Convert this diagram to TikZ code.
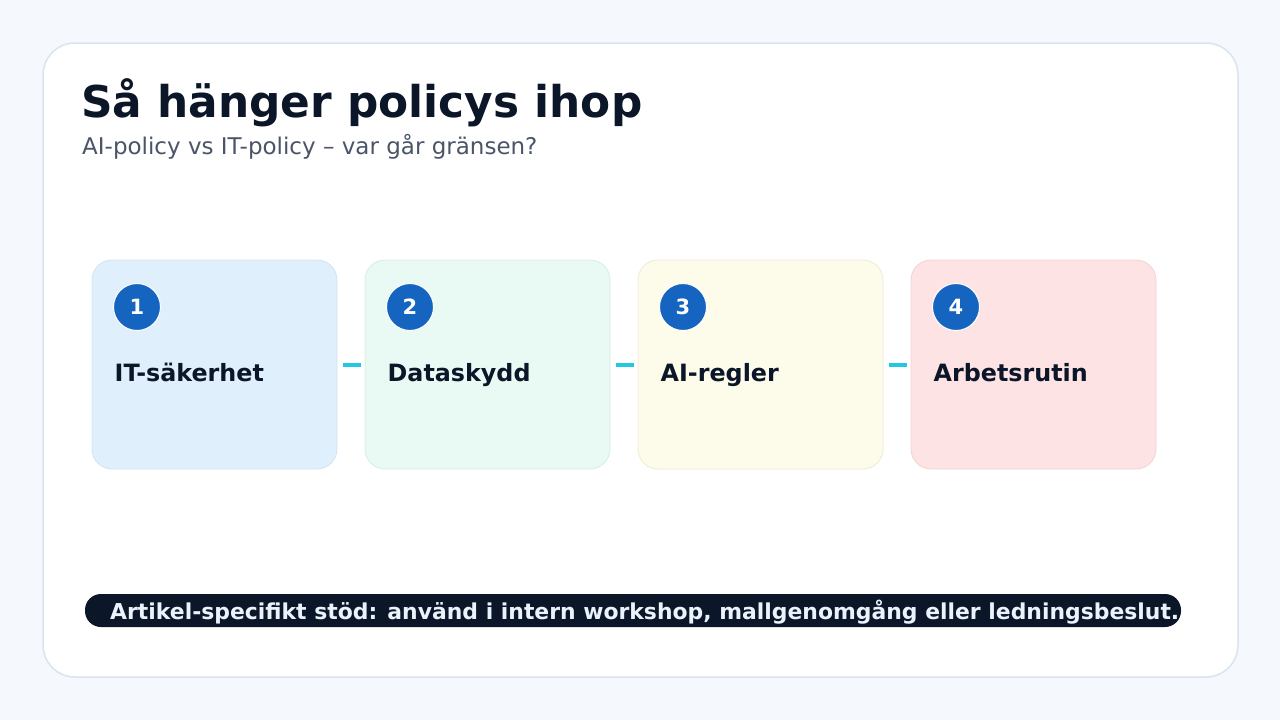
\documentclass[tikz,border=0pt]{standalone}
\usepackage{fontspec}
\setmainfont{DejaVu Sans}
\definecolor{bg}{HTML}{F5F8FC}
\definecolor{cardborder}{HTML}{DCE3EC}
\definecolor{navy}{HTML}{0B1628}
\definecolor{subgray}{HTML}{4A5568}
\definecolor{numblue}{HTML}{1565C0}
\definecolor{cyanline}{HTML}{22C7E3}
\definecolor{fillA}{HTML}{DFF0FC}
\definecolor{drawA}{HTML}{CFE4F5}
\definecolor{fillB}{HTML}{E9F9F3}
\definecolor{drawB}{HTML}{D3EFE5}
\definecolor{fillC}{HTML}{FDFBEA}
\definecolor{drawC}{HTML}{EEEBD3}
\definecolor{fillD}{HTML}{FDE3E3}
\definecolor{drawD}{HTML}{F2D3D3}
\definecolor{banner}{HTML}{0B1628}
\definecolor{bannertext}{HTML}{EAF2FB}
\begin{document}
\begin{tikzpicture}[x=1pt,y=-1pt,
  stepcard/.style={rounded corners=20pt, line width=0.8pt},
  numcircle/.style={circle, fill=numblue, draw=white, line width=1pt, minimum size=47pt, inner sep=0pt, text=white, font=\fontsize{21}{24}\selectfont\bfseries},
  steplabel/.style={anchor=base west, inner sep=0pt, text=navy, font=\fontsize{23.8}{28}\selectfont\bfseries},
  linker/.style={draw=cyanline, line width=4pt}]
\fill[bg] (0,0) rectangle (1280,720);
\useasboundingbox (0,0) rectangle (1280,720);
\path[fill=white, draw=cardborder, line width=1.5pt, rounded corners=32pt] (43,43) rectangle (1238,677);
\node[anchor=base west, inner sep=0pt, text=navy, font=\fontsize{43.8}{50}\selectfont\bfseries] (title) at (81,117) {Så hänger policys ihop};
\node[anchor=base west, inner sep=0pt, text=subgray, font=\fontsize{23}{27}\selectfont] (subtitle) at (82,154) {AI-policy vs IT-policy – var går gränsen?};
% cards
\foreach \i/\x/\f/\d/\t in {1/92/fillA/drawA/IT-säkerhet, 2/365/fillB/drawB/Dataskydd, 3/638/fillC/drawC/AI-regler, 4/911/fillD/drawD/Arbetsrutin}{
  \path[stepcard, fill=\f, draw=\d] (\x,260) rectangle ++(245,209);
  \coordinate (L\i) at (\x,365);
  \coordinate (R\i) at (\x+245,365);
  \node[numcircle] (n\i) at (\x+45,307) {\i};
  \node[steplabel] (t\i) at (\x+22.5,381) {\t};
}
\draw[linker] ([xshift=6pt]R1) -- ([xshift=-4pt]L2);
\draw[linker] ([xshift=6pt]R2) -- ([xshift=-4pt]L3);
\draw[linker] ([xshift=6pt]R3) -- ([xshift=-4pt]L4);
% banner
\path[fill=banner, rounded corners=16pt] (85,594) rectangle (1181,627);
\node[anchor=base west, inner sep=0pt, text=bannertext, font=\fontsize{21.9}{26}\selectfont\bfseries] (note) at (110,619) {Artikel-specifikt stöd: använd i intern workshop, mallgenomgång eller ledningsbeslut.};
\end{tikzpicture}
\end{document}
